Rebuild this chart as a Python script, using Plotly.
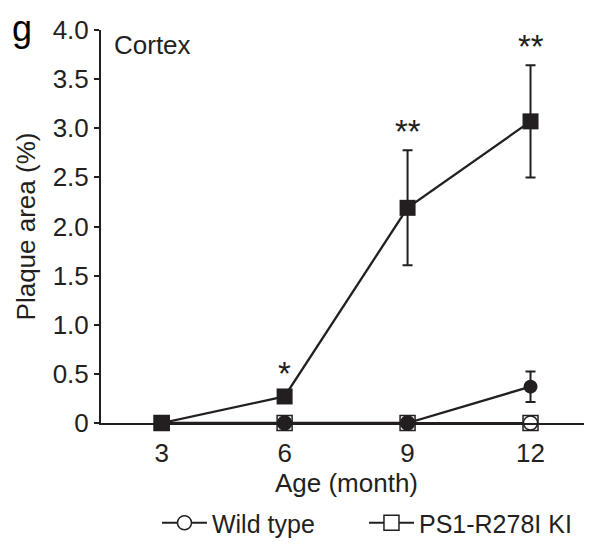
import plotly.graph_objects as go

ages = [3, 6, 9, 12]
wt_open = [0, 0, 0, 0]
ki_open = [0, 0, 0, 0]
wt_filled = [0, 0, 0, 0.37]
wt_filled_err = [0, 0, 0, 0.155]
ki_filled = [0, 0.27, 2.19, 3.07]
ki_filled_err = [0, 0.05, 0.585, 0.57]
stars = ["", "*", "**", "**"]
y_ticks = [0, 0.5, 1.0, 1.5, 2.0, 2.5, 3.0, 3.5, 4.0]
y_ticktext = ["0", "0.5", "1.0", "1.5", "2.0", "2.5", "3.0", "3.5", "4.0"]

INK = "#231f20"
FONT = "Liberation Sans, Arial, sans-serif"

fig = go.Figure()

fig.add_trace(go.Scatter(
    x=ages, y=ki_open, mode="lines+markers", name="PS1-R278I KI",
    line=dict(color=INK, width=2),
    marker=dict(symbol="square", size=15, color="white", line=dict(color=INK, width=1.5)),
    cliponaxis=False, legendrank=2,
))
fig.add_trace(go.Scatter(
    x=ages, y=wt_open, mode="lines+markers", name="Wild type",
    line=dict(color=INK, width=2),
    marker=dict(symbol="circle", size=14, color="white", line=dict(color=INK, width=1.5)),
    cliponaxis=False, legendrank=1,
))
fig.add_trace(go.Scatter(
    x=ages, y=wt_filled, mode="lines+markers", name="Wild type (filled)",
    line=dict(color=INK, width=2.3),
    marker=dict(symbol="circle", size=14, color=INK, line=dict(color=INK, width=0)),
    error_y=dict(type="data", array=wt_filled_err, color=INK, thickness=2, width=5),
    cliponaxis=False, showlegend=False,
))
fig.add_trace(go.Scatter(
    x=ages, y=ki_filled, mode="lines+markers", name="PS1-R278I KI (filled)",
    line=dict(color=INK, width=2.3),
    marker=dict(symbol="square", size=16, color=INK, line=dict(color=INK, width=0)),
    error_y=dict(type="data", array=ki_filled_err, color=INK, thickness=2, width=5),
    cliponaxis=False, showlegend=False,
))

for a, v, e, s in zip(ages, ki_filled, ki_filled_err, stars):
    if s:
        fig.add_annotation(x=a, y=v + e, text=s, showarrow=False, xref="x", yref="y",
                           yanchor="bottom", yshift=-2,
                           font=dict(family=FONT, size=33, color=INK))

fig.add_annotation(x=0.022, y=1.005, xref="paper", yref="paper", text="Cortex",
                   showarrow=False, xanchor="left", yanchor="top",
                   font=dict(family=FONT, size=26, color=INK))
fig.add_annotation(x=-0.185, y=1.06, xref="paper", yref="paper", text="g",
                   showarrow=False, xanchor="left", yanchor="top",
                   font=dict(family=FONT, size=36, color="black"))

fig.update_layout(
    width=584, height=542,
    margin=dict(l=93, r=0, t=22, b=127, autoexpand=False),
    paper_bgcolor="white", plot_bgcolor="white",
    font=dict(family=FONT, size=26, color=INK),
    showlegend=True,
    legend=dict(orientation="h", x=0.114, xanchor="left", y=0.0498, yanchor="middle",
                yref="container",
                font=dict(family=FONT, size=25, color=INK), itemwidth=45,
                entrywidth=147, traceorder="normal"),
    xaxis=dict(range=[1.52, 13.5], tickvals=ages, ticktext=[str(a) for a in ages],
               showline=True, linecolor=INK, linewidth=2, ticks="", showgrid=False,
               zeroline=False, ticklabelstandoff=6, automargin=False,
               title=dict(text="Age (month)", standoff=0, font=dict(size=26))),
    yaxis=dict(range=[0, 4.0], tickvals=y_ticks, ticktext=y_ticktext,
               showline=True, linecolor=INK, linewidth=2, ticks="outside", ticklen=5,
               tickwidth=2, tickcolor=INK, showgrid=False, zeroline=False,
               automargin=False,
               title=dict(text="Plaque area (%)", standoff=10, font=dict(size=26))),
)

fig.write_html("out.html")
